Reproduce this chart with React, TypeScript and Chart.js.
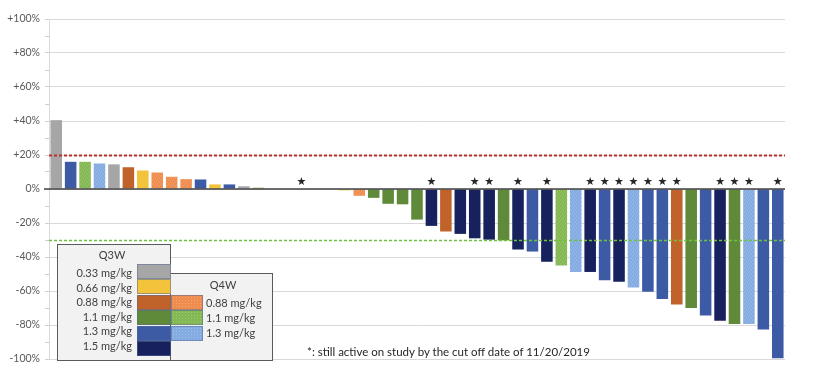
import React, { useEffect, useRef } from "react";
import { Chart, registerables } from "chart.js";

Chart.register(...registerables);

// ---------- DATA ----------
// Best % change from baseline in tumour size, one value per patient (waterfall order)
const changes: number[] = [
  40.5, 16, 16, 15, 14.5, 12.8, 10.9, 9.7, 7.2, 5.8, 5.6, 2.7, 2.7, 1.6, 0.8,
  0, 0, 0, 0, 0,
  -0.8, -4, -5.2, -8.7, -9, -18, -21.7, -25, -26.4, -29, -29.8, -30.2, -35.6,
  -36.8, -42.8, -45, -48.8, -48.8, -53.7, -54.6, -57.9, -60.4, -64.7, -68, -70,
  -74.4, -77.5, -79.4, -79.4, -82.7, -99.5,
];

// Dose group of each patient (Q3W_x / Q4W_x, "none" for unplotted zero bars)
const doseGroups: string[] = [
  "Q3W_0.33", "Q3W_1.3", "Q4W_1.1", "Q4W_1.3", "Q3W_0.33", "Q3W_0.88", "Q3W_0.66",
  "Q4W_0.88", "Q4W_0.88", "Q4W_0.88", "Q3W_1.3", "Q3W_0.66", "Q3W_1.3", "Q3W_0.33",
  "Q4W_1.1",
  "none", "none", "none", "none", "none",
  "Q3W_0.66", "Q4W_0.88", "Q3W_1.1", "Q3W_1.1", "Q3W_1.1", "Q3W_1.1", "Q3W_1.5",
  "Q3W_0.88", "Q3W_1.5", "Q3W_1.5", "Q3W_1.5", "Q3W_1.1", "Q3W_1.5", "Q3W_1.3",
  "Q3W_1.5", "Q4W_1.1", "Q4W_1.3", "Q3W_1.5", "Q3W_1.3", "Q3W_1.5", "Q4W_1.3",
  "Q3W_1.3", "Q3W_1.3", "Q3W_0.88", "Q3W_1.1", "Q3W_1.3", "Q3W_1.5", "Q3W_1.1",
  "Q4W_1.3", "Q3W_1.3", "Q3W_1.3",
];

// Patients still active on study at cut-off (marked with a star)
const stillActive: number[] = [17, 26, 29, 30, 32, 34, 37, 38, 39, 40, 41, 42, 43, 46, 47, 48, 50];

const patientLabels: string[] = changes.map((_, i) => `Pt ${i + 1}`);

// Threshold reference lines (%)
const progressionLine = 20;
const responseLine = -30;

// Legend entries
const q3wLegend: string[] = ["Q3W_0.33", "Q3W_0.66", "Q3W_0.88", "Q3W_1.1", "Q3W_1.3", "Q3W_1.5"];
const q3wLabels: string[] = ["0.33 mg/kg", "0.66 mg/kg", "0.88 mg/kg", "1.1 mg/kg", "1.3 mg/kg", "1.5 mg/kg"];
const q4wLegend: string[] = ["Q4W_0.88", "Q4W_1.1", "Q4W_1.3"];
const q4wLabels: string[] = ["0.88 mg/kg", "1.1 mg/kg", "1.3 mg/kg"];

const footnote = "*: still active on study by the cut off date of 11/20/2019";

// ---------- STYLE ----------
const groupColors: Record<string, string> = {
  "Q3W_0.33": "#a6a6a6",
  "Q3W_0.66": "#f3c33b",
  "Q3W_0.88": "#c0632b",
  "Q3W_1.1": "#5e8a3a",
  "Q3W_1.3": "#3d5aa5",
  "Q3W_1.5": "#16215e",
  "Q4W_0.88": "#ee8d4d",
  "Q4W_1.1": "#84b853",
  "Q4W_1.3": "#84ace2",
  none: "rgba(0,0,0,0)",
};

const FONT = "Lato, 'Liberation Sans', sans-serif";

function makePattern(ctx: CanvasRenderingContext2D, base: string): CanvasPattern | string {
  const c = document.createElement("canvas");
  c.width = 4;
  c.height = 4;
  const x = c.getContext("2d");
  if (!x) return base;
  x.fillStyle = base;
  x.fillRect(0, 0, 4, 4);
  x.fillStyle = "rgba(255,255,255,0.16)";
  x.fillRect(0, 0, 1, 1);
  x.fillRect(2, 1, 1, 1);
  x.fillRect(1, 3, 1, 1);
  x.fillRect(3, 2, 1, 1);
  const p = ctx.createPattern(c, "repeat");
  return p || base;
}

const overlayPlugin = {
  id: "waterfallOverlay",
  afterDatasetsDraw(chart: any) {
    const { ctx, chartArea, scales } = chart;
    const xs = scales.x;
    const ys = scales.y;
    const y0 = ys.getPixelForValue(0);
    ctx.save();
    // zero line
    ctx.strokeStyle = "#404040";
    ctx.lineWidth = 1.6;
    ctx.beginPath();
    ctx.moveTo(chartArea.left - 5, y0);
    ctx.lineTo(chartArea.right, y0);
    ctx.stroke();
    // +20% line
    const yp = Math.round(ys.getPixelForValue(progressionLine)) + 0.5;
    ctx.strokeStyle = "#b8302a";
    ctx.lineWidth = 1.8;
    ctx.setLineDash([3, 2]);
    ctx.beginPath();
    ctx.moveTo(chartArea.left, yp);
    ctx.lineTo(chartArea.right, yp);
    ctx.stroke();
    // -30% line
    const yr = Math.round(ys.getPixelForValue(responseLine)) + 0.5;
    ctx.strokeStyle = "#6fc13f";
    ctx.lineWidth = 1.4;
    ctx.setLineDash([3, 2]);
    ctx.beginPath();
    ctx.moveTo(chartArea.left, yr);
    ctx.lineTo(chartArea.right, yr);
    ctx.stroke();
    ctx.setLineDash([]);
    // stars
    ctx.fillStyle = "#262626";
    ctx.font = "11px 'DejaVu Sans'";
    ctx.textAlign = "center";
    ctx.textBaseline = "middle";
    stillActive.forEach((i) => {
      ctx.fillText("\u2605", xs.getPixelForValue(i), y0 - 7);
    });
    ctx.restore();
  },
};

function Swatch({ group, style }: { group: string; style: React.CSSProperties }) {
  const color = groupColors[group];
  const textured = group.startsWith("Q4W");
  return (
    <div
      style={{
        position: "absolute",
        boxSizing: "border-box",
        border: "1px solid rgba(90,110,150,0.55)",
        background: textured
          ? `radial-gradient(circle, rgba(255,255,255,0.22) 0.6px, rgba(255,255,255,0) 0.9px) 0 0 / 3px 3px, ${color}`
          : color,
        ...style,
      }}
    />
  );
}

export default function App() {
  const canvasRef = useRef<HTMLCanvasElement | null>(null);

  useEffect(() => {
    const canvas = canvasRef.current;
    if (!canvas) return;
    const ctx = canvas.getContext("2d");
    if (!ctx) return;
    const fills = doseGroups.map((g) =>
      g.startsWith("Q4W") ? makePattern(ctx, groupColors[g]) : groupColors[g]
    );
    const chart = new Chart(ctx, {
      type: "bar",
      data: {
        labels: patientLabels,
        datasets: [
          {
            data: changes,
            backgroundColor: fills as any,
            borderWidth: 0,
            categoryPercentage: 1,
            barPercentage: 0.8,
          },
        ],
      },
      options: {
        animation: false,
        responsive: false,
        events: [],
        layout: { padding: { left: 0, right: 43, top: 19, bottom: 25 } },
        plugins: { legend: { display: false }, tooltip: { enabled: false } },
        scales: {
          x: { display: false },
          y: {
            min: -100,
            max: 100,
            afterFit: (s: any) => {
              s.width = 49;
            },
            border: { color: "#d9d9d9", width: 1 },
            grid: {
              color: (c: any) => (c.tick && c.tick.value % 20 === 0 ? "#d9d9d9" : "rgba(0,0,0,0)"),
              tickColor: "#d0d0d0",
              tickLength: 4,
              lineWidth: 1,
            },
            ticks: {
              stepSize: 10,
              padding: 5,
              color: "#595959",
              font: { family: FONT, size: 10.5 },
              callback: (v: any) => {
                const n = Number(v);
                if (n % 20 !== 0) return "";
                return (n > 0 ? "+" : "") + n + "%";
              },
            },
          },
        },
      },
      plugins: [overlayPlugin],
    });
    return () => chart.destroy();
  }, []);

  const textStyle: React.CSSProperties = {
    position: "absolute",
    fontFamily: FONT,
    fontSize: 11,
    color: "#404040",
    whiteSpace: "nowrap",
    lineHeight: "12px",
  };

  return (
    <div style={{ position: "fixed", left: 0, top: 0, width: 828, height: 384, background: "#fff" }}>
      <canvas ref={canvasRef} width={828} height={384} style={{ position: "absolute", left: 0, top: 0, width: 828, height: 384 }} />
      {/* Q3W legend box */}
      <div
        style={{
          position: "absolute",
          left: 57,
          top: 244,
          width: 114,
          height: 117,
          boxSizing: "border-box",
          border: "1px solid #595959",
          background: "#f2f2f2",
        }}
      />
      {/* Q4W legend box */}
      <div
        style={{
          position: "absolute",
          left: 170,
          top: 273,
          width: 103,
          height: 88,
          boxSizing: "border-box",
          border: "1px solid #595959",
          background: "#f2f2f2",
        }}
      />
      <div style={{ ...textStyle, left: 92, width: 40, top: 249, textAlign: "center" }}>Q3W</div>
      {q3wLegend.map((g, i) => (
        <Swatch key={g} group={g} style={{ left: 137, top: 263.5 + i * 15.5, width: 34, height: 15 }} />
      ))}
      {q3wLabels.map((t, i) => (
        <div key={t} style={{ ...textStyle, right: 828 - 132, top: 267 + i * 14.5, textAlign: "right" }}>
          {t}
        </div>
      ))}
      <div style={{ ...textStyle, left: 203, width: 40, top: 279, textAlign: "center" }}>Q4W</div>
      {q4wLegend.map((g, i) => (
        <Swatch key={g} group={g} style={{ left: 171, top: 294.5 + i * 15.6, width: 32, height: 15 }} />
      ))}
      {q4wLabels.map((t, i) => (
        <div key={t} style={{ ...textStyle, left: 206, top: 297 + i * 15.2 }}>
          {t}
        </div>
      ))}
      <div style={{ ...textStyle, left: 307, top: 345, fontSize: 11.5, lineHeight: "14px", color: "#262626" }}>
        {footnote}
      </div>
    </div>
  );
}
